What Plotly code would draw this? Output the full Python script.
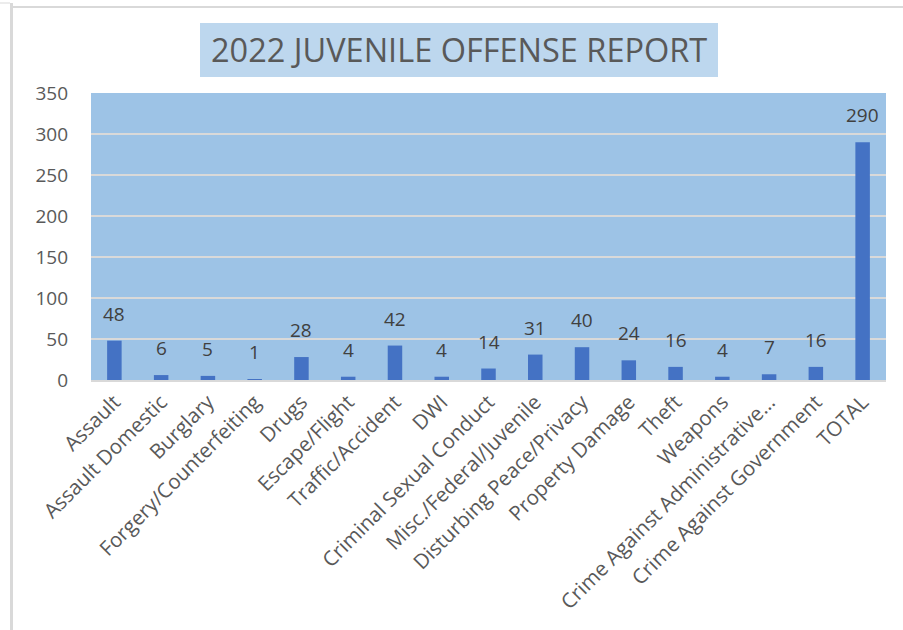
import plotly.graph_objects as go

categories = ["Assault", "Assault Domestic", "Burglary", "Forgery/Counterfeiting", "Drugs",
              "Escape/Flight", "Traffic/Accident", "DWI", "Criminal Sexual Conduct",
              "Misc./Federal/Juvenile", "Disturbing Peace/Privacy", "Property Damage",
              "Theft", "Weapons", "Crime Against Administrative...",
              "Crime Against Government", "TOTAL"]
values = [48, 6, 5, 1, 28, 4, 42, 4, 14, 31, 40, 24, 16, 4, 7, 16, 290]
y_ticks = [0, 50, 100, 150, 200, 250, 300, 350]

FONT = "Open Sans"
L, R, T, B = 91, 17, 93, 250
W, H = 903, 630
PW, PH = W - L - R, H - T - B


def px(x):
    return (x - L) / PW


def py(y):
    return (H - B - y) / PH


fig = go.Figure(go.Bar(
    x=categories, y=values,
    marker=dict(color="#4472C4", line=dict(width=0)),
    hoverinfo="skip",
))

for c, v in zip(categories, values):
    fig.add_annotation(x=c, y=v, text=str(v), showarrow=False, yanchor="bottom",
                       yshift=12, font=dict(family=FONT, size=19, color="#404040"))

fig.update_layout(
    width=W, height=H,
    margin=dict(l=L, r=R, t=T, b=B, autoexpand=False),
    paper_bgcolor="white", plot_bgcolor="#9DC3E6",
    bargap=0.69,
    showlegend=False,
    font=dict(family=FONT, color="#595959"),
)
fig.update_xaxes(tickangle=-45, tickfont=dict(family=FONT, size=20.5, color="#595959"),
                 showline=True, linecolor="#D9D9D9", linewidth=2, ticks="", showgrid=False)
fig.update_yaxes(range=[0, 350], tickvals=y_ticks, ticktext=[str(t) for t in y_ticks],
                 tickfont=dict(family=FONT, size=19, color="#595959"),
                 showgrid=True, gridcolor="#D9D9D9", gridwidth=2,
                 zeroline=False, showline=False, ticks="", ticklabelstandoff=22)

# title box
fig.add_shape(type="rect", xref="paper", yref="paper", x0=px(200), x1=px(718),
              y0=py(77), y1=py(23), fillcolor="#BDD7EE", line=dict(width=0), layer="below")
fig.add_annotation(text="2022 JUVENILE OFFENSE REPORT", xref="paper", yref="paper",
                   x=px(459), y=py(50), yanchor="middle", xanchor="center",
                   showarrow=False, font=dict(family=FONT, size=32.5, color="#595959"))

# outer frame lines
fig.add_shape(type="line", xref="paper", yref="paper", x0=px(11.5), x1=px(11.5),
              y0=py(H), y1=py(3), line=dict(color="#D9D9D9", width=3))
fig.add_shape(type="line", xref="paper", yref="paper", x0=px(13), x1=px(W),
              y0=py(7), y1=py(7), line=dict(color="#D9D9D9", width=2))
fig.add_shape(type="line", xref="paper", yref="paper", x0=px(0), x1=px(10),
              y0=py(3), y1=py(3), line=dict(color="#D9D9D9", width=1))

fig.write_html("out.html", config={"displayModeBar": False},
               post_script="document.body.style.margin='0';")
